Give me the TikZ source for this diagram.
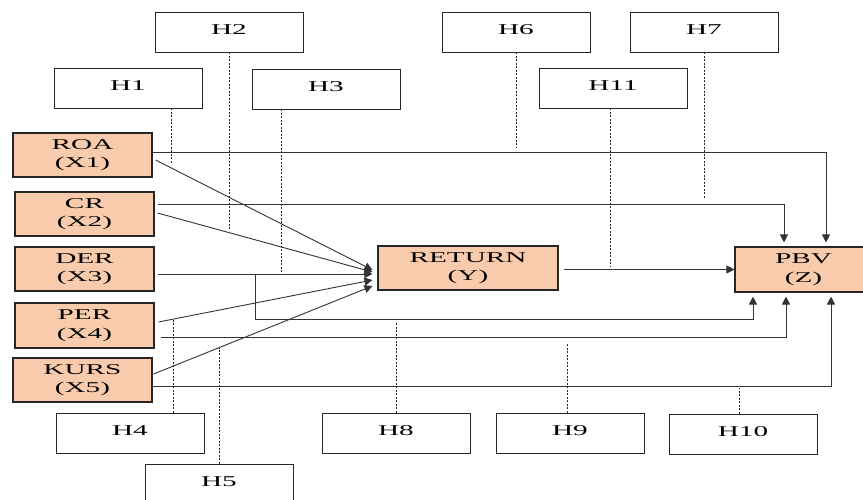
\documentclass[tikz,border=0pt]{standalone}
\usepackage{fontspec}
\setmainfont{Liberation Serif}
\usetikzlibrary{arrows.meta}
\definecolor{peach}{HTML}{F8CBAD}
\newcommand{\wide}[1]{\scalebox{1.95}[1]{#1}}
\begin{document}
\begin{tikzpicture}[x=1pt,y=-1pt,
 hbox/.style={draw=black!85,line width=0.9pt,minimum width=148pt,minimum height=40pt,inner sep=0pt,font=\fontsize{15}{18}\selectfont},
 vbox/.style={draw=black!85,fill=peach,line width=1.1pt,inner sep=0pt,align=center,font=\fontsize{15}{18.5}\selectfont},
 conn/.style={draw=black!80,line width=0.9pt},
 arr/.style={conn,-{Triangle[length=8pt,width=8pt]}},
 dotl/.style={draw=black!85,line width=1pt,dash pattern=on 2pt off 1.5pt}]
\useasboundingbox (0,0) rectangle (863,500);
\fill[white] (0,0) rectangle (863,500);
% hypothesis boxes
\node[hbox] (h1) at (128,88) {\raisebox{5pt}{\wide{H1}}};
\node[hbox] (h2) at (229,32) {\raisebox{5pt}{\wide{H2}}};
\node[hbox] (h3) at (326,89) {\raisebox{5pt}{\wide{H3}}};
\node[hbox] (h6) at (516,32) {\raisebox{5pt}{\wide{H6}}};
\node[hbox] (h11) at (613,88) {\raisebox{5pt}{\wide{H11}}};
\node[hbox] (h7) at (704,32) {\raisebox{5pt}{\wide{H7}}};
\node[hbox] (h4) at (130,433) {\raisebox{5pt}{\wide{H4}}};
\node[hbox] (h5) at (219,484) {\raisebox{5pt}{\wide{H5}}};
\node[hbox] (h8) at (396,433) {\raisebox{5pt}{\wide{H8}}};
\node[hbox] (h9) at (570,433) {\raisebox{5pt}{\wide{H9}}};
\node[hbox] (h10) at (743,434) {\raisebox{5pt}{\wide{H10}}};
% variable boxes
\node[vbox,minimum width=139pt,minimum height=44pt] (roa) at (82.5,155) {\wide{ROA}\\\wide{(X1)}};
\node[vbox,minimum width=139pt,minimum height=44pt] (cr) at (84.5,214) {\wide{CR}\\\wide{(X2)}};
\node[vbox,minimum width=139pt,minimum height=44pt] (der) at (84.5,269) {\wide{DER}\\\wide{(X3)}};
\node[vbox,minimum width=139pt,minimum height=45pt] (per) at (84.5,325.5) {\wide{PER}\\\wide{(X4)}};
\node[vbox,minimum width=139pt,minimum height=44pt] (kurs) at (82.5,380) {\wide{KURS}\\\wide{(X5)}};
\node[vbox,minimum width=180pt,minimum height=44pt] (ret) at (468,268) {\wide{RETURN}\\\wide{(Y)}};
\node[vbox,minimum width=150pt,minimum height=45pt] (pbv) at (810,269.5) {\hspace*{-13pt}\wide{PBV}\\\hspace*{-13pt}\wide{(Z)}};
% dotted hypothesis lines
\coordinate (e1) at ([xshift=43pt,yshift=-56pt]h1.south);
\coordinate (e2) at ([yshift=-177pt]h2.south);
\coordinate (e3) at ([xshift=-45pt,yshift=-164pt]h3.south);
\coordinate (e6) at ([yshift=-95pt]h6.south);
\coordinate (e11) at ([xshift=-3pt,yshift=-158pt]h11.south);
\coordinate (e7) at ([yshift=-146pt]h7.south);
\coordinate (e4) at ([xshift=43pt,yshift=93pt]h4.north);
\coordinate (e5) at ([yshift=116pt]h5.north);
\coordinate (e8) at ([yshift=90pt]h8.north);
\coordinate (e9) at ([xshift=-3pt,yshift=70pt]h9.north);
\coordinate (e10) at ([xshift=-4pt,yshift=26pt]h10.north);
\draw[dotl] ([xshift=43pt]h1.south) -- (e1);
\draw[dotl] (h2.south) -- (e2);
\draw[dotl] ([xshift=-45pt]h3.south) -- (e3);
\draw[dotl] (h6.south) -- (e6);
\draw[dotl] ([xshift=-3pt]h11.south) -- (e11);
\draw[dotl] (h7.south) -- (e7);
\draw[dotl] ([xshift=43pt]h4.north) -- (e4);
\draw[dotl] (h5.north) -- (e5);
\draw[dotl] (h8.north) -- (e8);
\draw[dotl] ([xshift=-3pt]h9.north) -- (e9);
\draw[dotl] ([xshift=-4pt]h10.north) -- (e10);
% arrows to RETURN
\draw[arr] ([xshift=3pt,yshift=-5pt]roa.east) -- ([xshift=-5pt,yshift=-2pt]ret.west);
\draw[arr] ([xshift=3pt,yshift=1pt]cr.east) -- ([xshift=-5pt,yshift=-4pt]ret.west);
\draw[arr] ([xshift=3pt,yshift=-5pt]der.east) -- ([xshift=-5pt,yshift=-6pt]ret.west);
\draw[arr] ([xshift=4pt,yshift=3.5pt]per.east) -- ([xshift=-5pt,yshift=-12pt]ret.west);
\draw[arr] ([xshift=1pt,yshift=6pt]kurs.east) -- ([xshift=-5pt,yshift=-18pt]ret.west);
% arrows to PBV
\draw[arr] ([yshift=3pt]roa.east) -| ([xshift=16pt,yshift=4pt]pbv.north);
\draw[arr] ([xshift=3pt,yshift=10pt]cr.east) -| ([xshift=-26pt,yshift=4pt]pbv.north);
\draw[arr] ([xshift=5pt,yshift=-1.5pt]ret.east) -- (pbv.west);
\draw[arr] ([xshift=109pt,yshift=-5pt]der.east) -- ++(-8,0) -- ++(0,45) -| ([xshift=-57pt,yshift=-4pt]pbv.south);
\draw[arr] ([xshift=6pt,yshift=-11.5pt]per.east) -| ([xshift=-24pt,yshift=-4pt]pbv.south);
\draw[arr] ([yshift=-6pt]kurs.east) -| ([xshift=21pt,yshift=-4pt]pbv.south);
\end{tikzpicture}
\end{document}
